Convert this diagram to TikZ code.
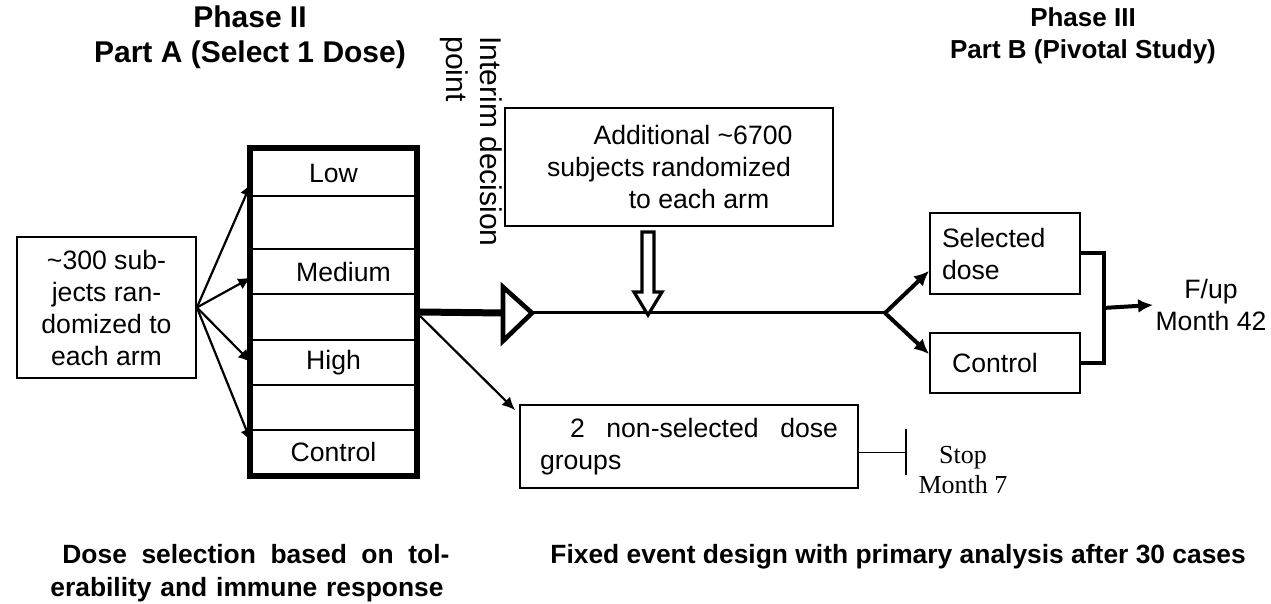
\documentclass[tikz,border=0pt]{standalone}
\usepackage{fontspec}
\setmainfont{Liberation Sans}
\newfontfamily\timesfont{Liberation Serif}
\usetikzlibrary{arrows,arrows.meta,fit}
\newcommand{\txt}{\fontsize{13.3}{16}\selectfont}
\newcommand{\head}{\fontsize{15}{17.5}\selectfont\bfseries}
\newcommand{\subhead}{\fontsize{13}{16}\selectfont\bfseries}
\newcommand{\foot}{\fontsize{13.2}{16.5}\selectfont\bfseries}
\tikzset{
  box/.style={draw, line width=0.9pt, inner sep=0pt, align=center, font=\txt},
  row/.style={draw, line width=0.8pt, minimum width=81.5pt, inner sep=0pt, font=\txt},
  arr/.style={line width=1.1pt, -{Latex[length=6.5pt,width=6pt]}},
  fat/.style={line width=2pt, -{Latex[length=7.5pt,width=7pt]}}
}

\begin{document}
\begin{tikzpicture}[x=0.5pt, y=-0.5pt]
    \useasboundingbox (0,0) rectangle (1271,604);
    % titles
    \node (1) at (250,37) [align=center, font=\head]
      {Phase II\\Part A (Select 1 Dose)};
    \node (2) at (1083,36) [align=center, font=\subhead]
      {Phase III\\Part B (Pivotal Study)};
    \node (3) at (503,36) [rotate=-90, anchor=north west, inner sep=0pt,
      align=left, font=\fontsize{15}{17}\selectfont] {Interim decision\\point};
    % phase II
    \node (4) at (106.5,307.5) [box, minimum width=89.5pt, minimum height=70.5pt]
      {\textasciitilde 300 sub-\\jects ran-\\domized to\\each arm};
    \node (5) at (333.5,173) [row, minimum height=23pt] {Low};
    \node (6) at (333.5,222.5) [row, minimum height=26.5pt] {};
    \node (7) at (333.5,271.5) [row, minimum height=22.5pt] {\hspace{10pt}Medium};
    \node (8) at (333.5,317) [row, minimum height=23pt] {};
    \node (9) at (333.5,362.5) [row, minimum height=22.5pt] {High\hspace{10pt}};
    \node (10) at (333.5,407.5) [row, minimum height=22.5pt] {};
    \node (11) at (333.5,452) [row, minimum height=22pt] {Control};
    \node (12) [fit=(5)(11), draw, line width=2.3pt, inner sep=1pt] {};
    \draw [arr] (4.east) to ([yshift=-5pt]5.west);
    \draw [arr] (4.east) to ([yshift=-3pt]7.west);
    \draw [arr] (4.east) to (9.west);
    \draw [arr] (4.east) to ([yshift=5pt]11.west);
    % interim decision
    \coordinate (13) at (503,313);
    \coordinate (14) at (532,313);
    \coordinate (15) at (885,313);
    \draw [line width=3.5pt] (12.east) to (13);
    \draw [line width=1.5pt] (14) to (15);
    \draw [line width=2.3pt, fill=white] (13) ++(0,-26) -- ++(29,26) -- ++(-29,28) -- cycle;
    % phase III
    \node (17) at (669,167) [box, minimum width=164pt, minimum height=59pt]
      {\hspace{24pt}Additional \textasciitilde 6700\\subjects randomized\\\hspace{30pt}to each arm};
    \coordinate (16) at (648,232);
    \draw [line width=1.6pt, fill=white] (16) ++(-6,0) -- ++(0,60) -- ++(-8,0)
      -- ++(14,23) -- ++(14,-23) -- ++(-8,0) -- ++(0,-60) -- cycle;
    \node (18) at (1005,253.5) [box, minimum width=75pt, minimum height=40.5pt,
      text width=63pt, inner xsep=6pt, align=left] {Selected\\dose};
    \node (19) at (1005,363) [box, minimum width=75pt, minimum height=30pt]
      {Control\hspace{10pt}};
    \node (20) at (1211,305) [align=center, font=\txt, inner sep=1pt]
      {F/up\\Month 42};
    \draw [fat] (15) to ([yshift=12pt]18.south west);
    \draw [fat] (15) to ([yshift=-11pt]19.north west);
    \draw [line width=2pt] (18.east) -- ++(23,0) |- (19.east);
    \coordinate (21) at (1103,308);
    \draw [fat] (21) to (20.west);
    % dropped doses
    \node (22) at (689,446.5) [box, minimum width=169pt, minimum height=41.5pt,
      text width=149pt, inner xsep=10pt, align=left]
      {\hspace*{15pt}2\hfill non-selected\hfill dose\\groups};
    \draw [arr] ([yshift=-2pt]12.east) to ([xshift=-2pt,yshift=-3pt]22.north west);
    \draw [line width=0.9pt] ([yshift=-3pt]22.east) -- ++(47,0) coordinate (23);
    \draw [line width=0.9pt] (23) ++(0,-23) -- ++(0,46);
    \node (24) at (963,470) [align=center, font=\timesfont\fontsize{13}{15}\selectfont]
      {Stop\\Month 7};
    % footnotes
    \node (25) at (50,573) [anchor=west, inner sep=0pt, text width=199.5pt,
      align=left, font=\foot]
      {\hspace*{6pt}Dose\hfill selection\hfill based\hfill on\hfill tol-\\erability and immune response};
    \node (26) at (550,557) [anchor=west, inner sep=0pt, font=\foot]
      {Fixed event design with primary analysis after 30 cases};
\end{tikzpicture}
\end{document}
